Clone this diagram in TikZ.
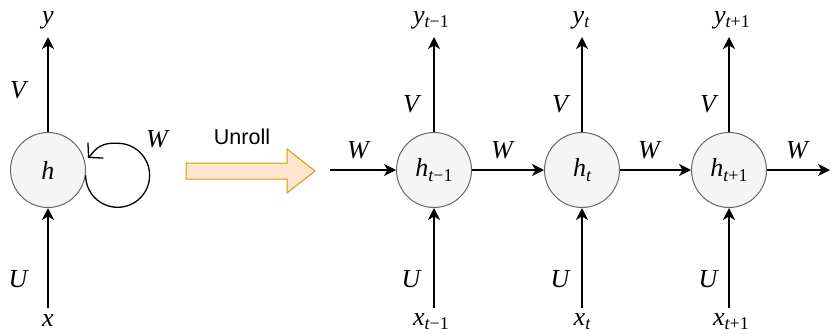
\documentclass[tikz,border=0pt]{standalone}
\usepackage{fontspec}
\newfontfamily\unrollfont{Liberation Sans}
\newfontfamily\lblfont{Liberation Serif}
\usetikzlibrary{arrows.meta}
\definecolor{nodefill}{HTML}{F5F5F5}
\definecolor{nodeline}{HTML}{666666}
\definecolor{arrfill}{HTML}{FFE6CC}
\definecolor{arrline}{HTML}{D79B00}
\newcommand\lblsub[1]{\raisebox{-4.5pt}{\fontsize{18}{20}\selectfont #1}}
\begin{document}
\begin{tikzpicture}[x=1pt,y=-1pt,
 cell/.style={circle,draw=nodeline,fill=nodefill,line width=1pt,minimum size=75pt,inner sep=0pt,font=\lblfont\itshape\fontsize{26}{30}\selectfont},
 lbl/.style={inner sep=0pt,anchor=base,font=\lblfont\itshape\fontsize{26}{30}\selectfont},
 conn/.style={line width=1.3pt,-{Stealth[length=12pt,width=12pt,inset=3.5pt]}},
 loopconn/.style={line width=1.3pt,-{Straight Barb[length=10pt,width=22pt]}},
]
\useasboundingbox (0,0) rectangle (831,333);

% folded network
\node[cell] (h) at (48,170) {h};
\node[lbl] (y) at (48,23) {y};
\node[lbl] (x) at (48,326) {x};
\node[lbl] (V0) at (18,98) {V};
\node[lbl] (U0) at (18,287) {U};
\node[lbl] (W0) at (157,147) {W};
\coordinate (yt0) at (48,37);
\coordinate (xb0) at (48,308);
\draw[conn] (h) -- (yt0);
\draw[conn] (xb0) -- (h);
\draw[loopconn] (h.-8) arc[start angle=180,end angle=-90,radius=32]
  .. controls (98,142) and (94,152) .. (88,158);

% unroll arrow
\node[inner sep=0pt,font=\unrollfont\fontsize{21.5}{24}\selectfont] (unroll) at (242,137) {Unroll};
\draw[draw=arrline,fill=arrfill,line width=1pt]
  (186,163) -- (287,163) -- (287,149) -- (315,171) -- (287,193) -- (287,179) -- (186,179) -- cycle;

% unrolled network
\node[cell] (h1) at (434,170) {h\lblsub{\textit{t}\upshape −1}};
\node[cell] (h2) at (582,170) {h\lblsub{\textit{t}}};
\node[cell] (h3) at (729,170) {h\lblsub{\textit{t}\upshape +1}};

\node[lbl] (y1) at (431,23) {y\lblsub{\textit{t}\upshape −1}};
\node[lbl] (y2) at (581,23) {y\lblsub{\textit{t}}};
\node[lbl] (y3) at (732,23) {y\lblsub{\textit{t}\upshape +1}};
\node[lbl] (x1) at (431,325) {x\lblsub{\textit{t}\upshape −1}};
\node[lbl] (x2) at (582,325) {x\lblsub{\textit{t}}};
\node[lbl] (x3) at (731,325) {x\lblsub{\textit{t}\upshape +1}};

\node[lbl] (V1) at (411,112) {V};
\node[lbl] (V2) at (560,112) {V};
\node[lbl] (V3) at (708,112) {V};
\node[lbl] (U1) at (411,287) {U};
\node[lbl] (U2) at (560,287) {U};
\node[lbl] (U3) at (708,287) {U};

\node[lbl] (W1) at (358,158) {W};
\node[lbl] (W2) at (502,158) {W};
\node[lbl] (W3) at (649,158) {W};
\node[lbl] (W4) at (797,158) {W};

\coordinate (yt1) at (434,37);
\coordinate (yt2) at (582,37);
\coordinate (yt3) at (729,37);
\coordinate (xb1) at (434,308);
\coordinate (xb2) at (582,308);
\coordinate (xb3) at (729,308);
\coordinate (win) at (330,170);
\coordinate (wout) at (830,170);

\draw[conn] (h1) -- (yt1);
\draw[conn] (h2) -- (yt2);
\draw[conn] (h3) -- (yt3);
\draw[conn] (xb1) -- (h1);
\draw[conn] (xb2) -- (h2);
\draw[conn] (xb3) -- (h3);
\draw[conn] (win) -- (h1);
\draw[conn] (h1) -- (h2);
\draw[conn] (h2) -- (h3);
\draw[conn] (h3) -- (wout);
\end{tikzpicture}
\end{document}
